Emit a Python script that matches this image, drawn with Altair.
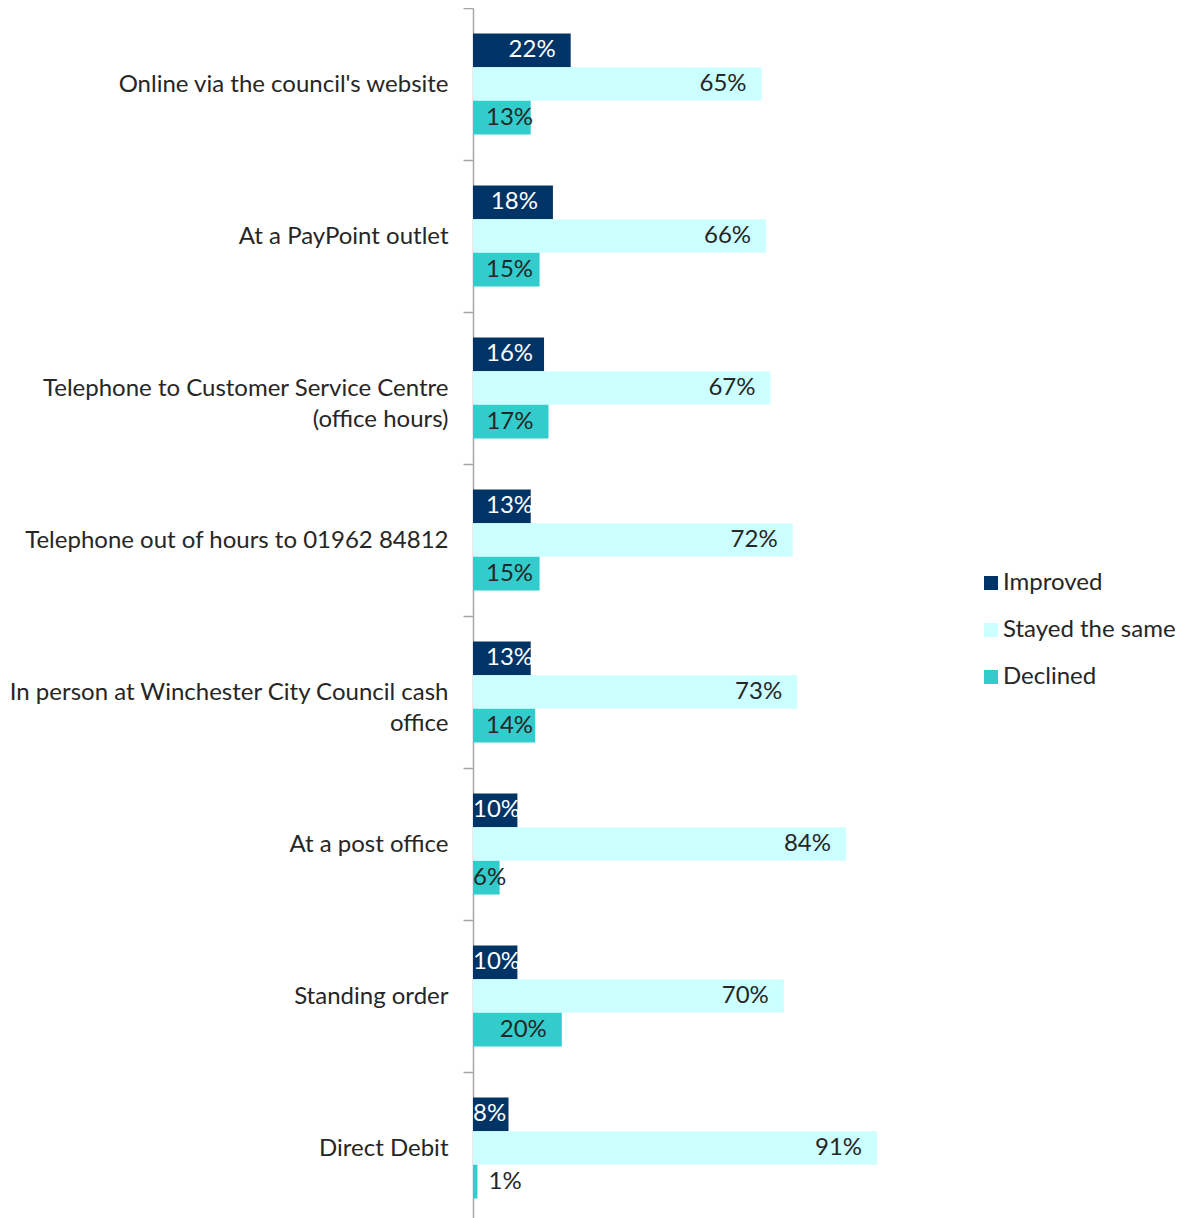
import altair as alt
import pandas as pd

categories = [
    "Online via the council's website",
    "At a PayPoint outlet",
    "Telephone to Customer Service Centre|(office hours)",
    "Telephone out of hours to 01962 84812",
    "In person at Winchester City Council cash|office",
    "At a post office",
    "Standing order",
    "Direct Debit",
]
series = ["Improved", "Stayed the same", "Declined"]
improved = [22, 18, 16, 13, 13, 10, 10, 8]
same = [65, 66, 67, 72, 73, 84, 70, 91]
declined = [13, 15, 17, 15, 14, 6, 20, 1]
colors = ["#003366", "#CCFFFF", "#33CCCC"]

rows = []
for i, c in enumerate(categories):
    for s, vals in zip(series, [improved, same, declined]):
        rows.append({"category": c, "series": s, "value": vals[i]})
df = pd.DataFrame(rows)

FONT = "Lato"
TXT = "#262626"
FS = 24

y_enc = alt.Y(
    "category:N",
    sort=categories,
    scale=alt.Scale(paddingInner=0, paddingOuter=0),
    axis=alt.Axis(
        title=None,
        labelExpr="split(datum.label, '|')",
        labelFontSize=FS,
        labelFont=FONT,
        labelColor=TXT,
        labelLineHeight=31,
        labelLimit=600,
        labelPadding=15,
        tickSize=10,
        tickBand="extent",
        tickColor="#A6A6A6",
        domainColor="#A6A6A6",
        tickWidth=1.5,
        domainWidth=1.5,
    ),
)
yoff = alt.YOffset("series:N", sort=series,
                   scale=alt.Scale(paddingInner=0, paddingOuter=0.755))
x_scale = alt.Scale(domain=[0, 100])

base = alt.Chart(df)

bars = base.mark_bar().encode(
    x=alt.X("value:Q", scale=x_scale, axis=None),
    y=y_enc,
    yOffset=yoff,
    color=alt.Color(
        "series:N",
        sort=series,
        scale=alt.Scale(domain=series, range=colors),
        legend=alt.Legend(
            title=None,
            orient="none",
            legendX=506,
            legendY=563,
            symbolType="square",
            symbolSize=196,
            symbolStrokeWidth=0,
            labelFontSize=FS,
            labelFont=FONT,
            labelColor=TXT,
            labelLimit=300,
            rowPadding=23,
            labelOffset=0,
        ),
    ),
)

text_color = alt.condition(alt.datum.series == "Improved", alt.value("white"), alt.value(TXT))

labels_in = (
    base.transform_filter("datum.value >= 12")
    .transform_calculate(lx="max(datum.value, 16.9)", lab="datum.value + '%'")
    .mark_text(align="right", baseline="middle", dx=-15, fontSize=FS, font=FONT)
    .encode(
        x=alt.X("lx:Q", scale=x_scale),
        y=alt.Y("category:N", sort=categories),
        yOffset=yoff,
        text="lab:N",
        color=text_color,
    )
)

labels_small = (
    base.transform_filter("datum.value < 12")
    .transform_calculate(lx="datum.value < 3 ? datum.value + 2.5 : 0", lab="datum.value + '%'")
    .mark_text(align="left", baseline="middle", dx=0, fontSize=FS, font=FONT)
    .encode(
        x=alt.X("lx:Q", scale=x_scale),
        y=alt.Y("category:N", sort=categories),
        yOffset=yoff,
        text="lab:N",
        color=text_color,
    )
)

chart = (
    alt.layer(bars, labels_in, labels_small)
    .properties(
        width=444,
        height=1216,
        autosize=alt.AutoSizeParams(type="none"),
        padding={"left": 465, "top": 0, "right": 260, "bottom": 0},
    )
    .configure(font=FONT)
    .configure_view(stroke="transparent", strokeWidth=0)
)

chart.save("out.html", embed_options={"renderer": "svg", "actions": False})
